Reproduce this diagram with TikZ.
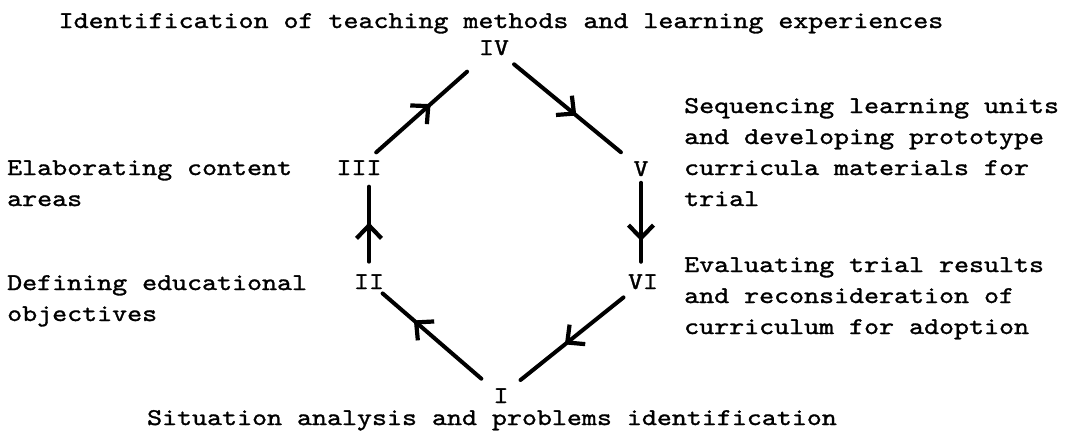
\documentclass[tikz,border=0pt]{standalone}
\usepackage{fontspec}
\newfontfamily\tw[Extension=.otf, FakeStretch=1.19, FakeBold=1.3]{lmmono10-regular}
\usetikzlibrary{arrows.meta,decorations.markings,calc}
\tikzset{
  lbl/.style={font=\tw\fontsize{24}{31}\selectfont, inner sep=0pt, align=left, anchor=base west},
  ttl/.style={font=\tw\fontsize{24}{31}\selectfont, inner sep=0pt, anchor=base},
  num/.style={font=\tw\fontsize{24}{31}\selectfont, inner sep=0pt, anchor=base},
  link/.style={line width=4pt, line cap=round},
  midtip/.style={decoration={markings, mark=at position #1 with {\arrow[line width=4.2pt]{Straight Barb[length=13pt,width=25pt]}}}, postaction={decorate}}
}
\begin{document}
\begin{tikzpicture}[x=1pt,y=-1pt]
\useasboundingbox (0,0) rectangle (1077,439);

% titles
\node[ttl] (top) at (501,28) {Identification of teaching methods and learning experiences};
\node[ttl] (bottom) at (492,425) {Situation analysis and problems identification};

% stage numerals
\node[num] (IV)  at (494,55)  {IV};
\node[num] (III) at (359,175) {III};
\node[num] (V)   at (641,176) {V};
\node[num] (II)  at (369,289) {II};
\node[num] (VI)  at (643,289) {VI};
\node[num] (I)   at (501,403) {I};

% side labels (anchor = baseline of the last line)
\node[lbl] (lIII) at (7,206)   {Elaborating content\\areas};
\node[lbl] (lII)  at (7,321)   {Defining educational\\objectives};
\node[lbl] (lV)   at (684,206) {Sequencing learning units\\and developing prototype\\curricula materials for\\trial};
\node[lbl] (lVI)  at (684,334) {Evaluating trial results\\and reconsideration of\\curriculum for adoption};

% connectors
\draw[link, shorten <=23pt, shorten >=36pt] (III.center) -- (IV.center);
\path[midtip=0.53] (III.center) -- (IV.center);

\draw[link, shorten <=26pt, shorten >=26pt] (IV.center) -- (V.center);
\path[midtip=0.56] (IV.center) -- (V.center);

\draw[link, shorten <=14pt, shorten >=20pt] (V.center) -- (V.center |- VI.center);
\path[midtip=0.64] (V.center) -- (V.center |- VI.center);

\draw[link, shorten <=25pt, shorten >=25pt] (VI.center) -- (I.center);
\path[midtip=0.55] (VI.center) -- (I.center);

\draw[link, shorten <=26pt, shorten >=18pt] (I.center) -- (II.center);
\path[midtip=0.66] (I.center) -- (II.center);

\draw[link, shorten <=20pt, shorten >=19pt] (II.center) -- (II.center |- III.center);
\path[midtip=0.52] (II.center) -- (II.center |- III.center);
\end{tikzpicture}
\end{document}
